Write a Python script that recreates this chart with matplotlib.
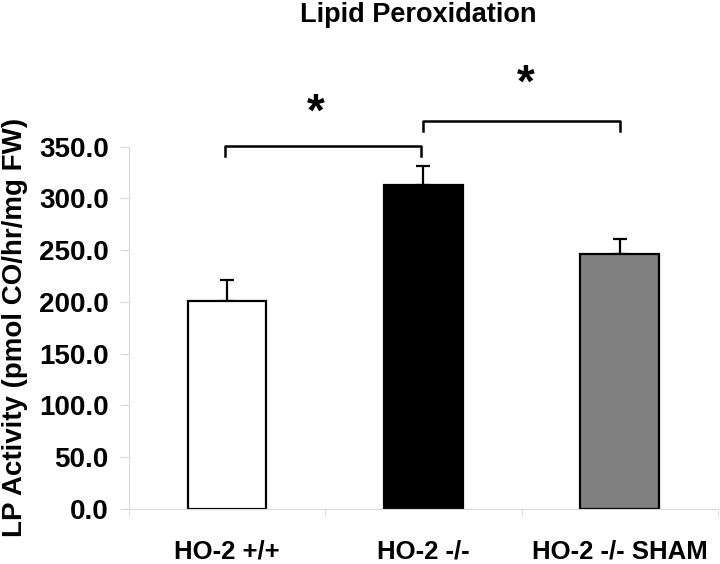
import matplotlib
matplotlib.use("Agg")
import matplotlib.pyplot as plt

groups = ["HO-2 +/+", "HO-2 -/-", "HO-2 -/- SHAM"]
lp_activity = [201.0, 313.0, 246.0]
sem = [20.0, 18.0, 15.0]
bar_colors = ["white", "black", "#808080"]
yticks = [0, 50, 100, 150, 200, 250, 300, 350]

plt.rcParams["font.family"] = ["Liberation Sans", "DejaVu Sans"]
plt.rcParams["font.weight"] = "bold"

fig = plt.figure(figsize=(7.2, 5.64), dpi=100)
ax = fig.add_axes([0.179, 0.0975, 0.818, 0.6425])

x = range(len(groups))
ax.bar(x, lp_activity, width=0.4, color=bar_colors, edgecolor="black", linewidth=1.6, zorder=2)
# only the upper half of the error bar shows above the bar
ax.errorbar(x, [v + e / 2 for v, e in zip(lp_activity, sem)], yerr=[[e / 2 for e in sem], [e / 2 for e in sem]],
            fmt="none", ecolor="black", elinewidth=1.6, capsize=5, capthick=1.6, zorder=1)

ax.set_xlim(-0.5, 2.5)
ax.set_ylim(0, 350)
ax.set_yticks(yticks)
ax.set_yticklabels([f"{v:.1f}" for v in yticks], fontsize=20, fontweight="bold")
ax.set_xticks(list(x))
ax.set_xticklabels(groups, fontsize=18.5, fontweight="bold")
ax.set_xticks([-0.5, 0.5, 1.5, 2.5], minor=True)
ax.tick_params(axis="x", which="major", length=0, pad=22)
ax.tick_params(axis="x", which="minor", length=6, color="#d9d9d9", direction="out")
ax.tick_params(axis="y", length=6.5, color="#d9d9d9", pad=8)

for side in ["top", "right"]:
    ax.spines[side].set_visible(False)
for side in ["left", "bottom"]:
    ax.spines[side].set_color("#d9d9d9")
    ax.spines[side].set_linewidth(0.8)

ax.set_ylabel("LP Activity (pmol CO/hr/mg FW)", fontsize=20, fontweight="bold", labelpad=8)

# significance brackets
ax.plot([-0.01, -0.01, 0.99, 0.99], [341, 351, 351, 341], color="black", lw=1.8, clip_on=False)
ax.plot([1.0, 1.0, 2.0, 2.0], [365, 375, 375, 365], color="black", lw=1.8, clip_on=False)
ax.text(0.45, 382, "*", fontsize=33, fontweight="bold", ha="center", va="center")
ax.text(1.52, 410, "*", fontsize=33, fontweight="bold", ha="center", va="center")

fig.text(0.581, 0.974, "Lipid Peroxidation", fontsize=19.5, fontweight="bold", ha="center", va="center")

fig.savefig("out.png", dpi=100)
